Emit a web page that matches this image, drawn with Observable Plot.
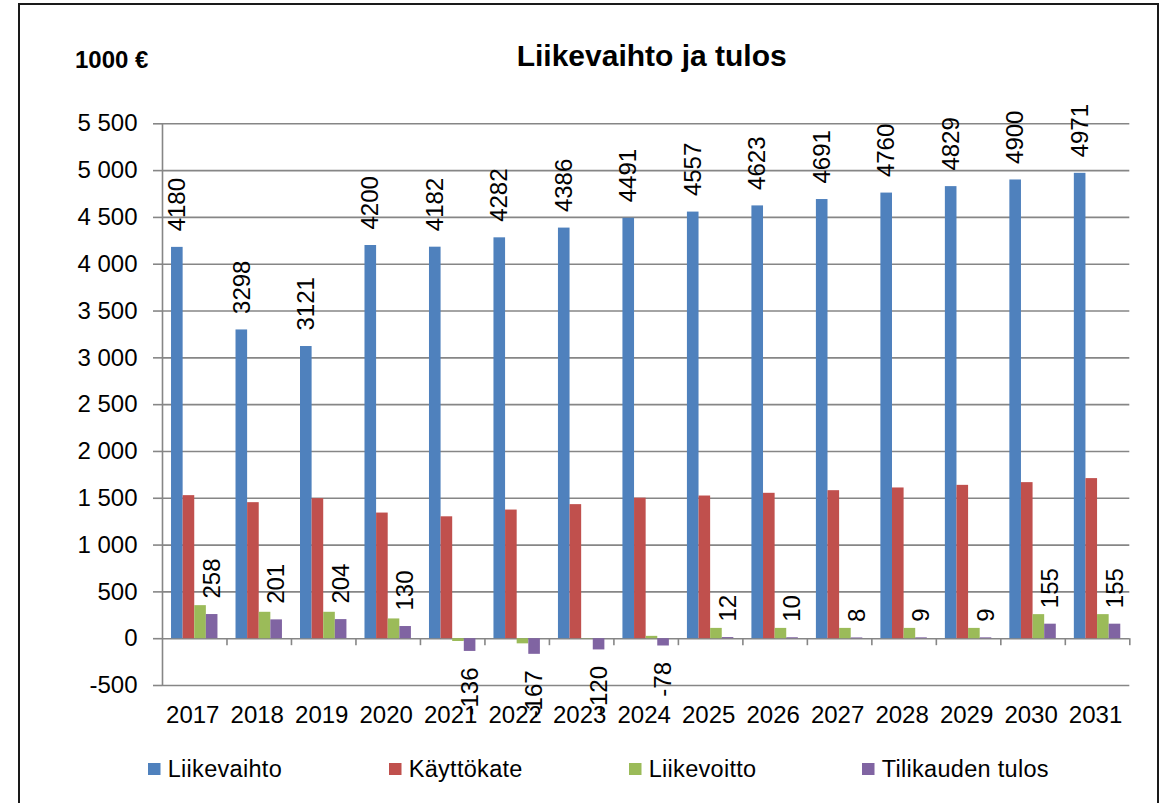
<!DOCTYPE html>
<html><head><meta charset="utf-8">
<script src="https://cdn.jsdelivr.net/npm/d3@7"></script>
<script src="https://cdn.jsdelivr.net/npm/@observablehq/plot@0.6"></script>
<style>
html,body{margin:0;padding:0;background:#fff;}
#wrap{position:relative;width:1170px;height:803px;overflow:hidden;font-family:"Liberation Sans",Arial,sans-serif;background:#fff;}
#border{position:absolute;left:18px;top:3px;width:1137px;height:900px;border:2px solid #1a1a1a;}
#chart{position:absolute;left:0;top:0;}
#overlay{position:absolute;left:0;top:0;}
</style></head>
<body><div id="wrap"><div id="border"></div><div id="chart"></div><svg id="overlay" width="1170" height="803"></svg></div>
<script>
const years = ["2017","2018","2019","2020","2021","2022","2023","2024","2025","2026","2027","2028","2029","2030","2031"];
const liikevaihto = [4180,3298,3121,4200,4182,4282,4386,4491,4557,4623,4691,4760,4829,4900,4971];
const kayttokate = [1528,1453,1496,1342,1302,1374,1432,1501,1524,1553,1581,1610,1638,1667,1710];
const liikevoitto = [353,282,282,211,-30,-55,-3,25,110,110,110,110,110,257,257];
const tilikaudenTulos = [258,201,204,130,-136,-167,-120,-78,12,10,8,9,9,155,155];
const seriesNames = ["Liikevaihto","Käyttökate","Liikevoitto","Tilikauden tulos"];
const seriesColors = ["#4F81BD","#C0504D","#9BBB59","#8064A2"];
const yTicks = [-500,0,500,1000,1500,2000,2500,3000,3500,4000,4500,5000,5500];
const titleText = "Liikevaihto ja tulos";
const unitText = "1000 €";

const W = 1170, H = 740;
const mL = 162, mR = 40.7, mT = 123.3, mB = 55;
const padIn = 0.28;
const step = (W - mL - mR) / years.length;
const bw = step * (1 - padIn);
const nS = seriesNames.length;
const sub = bw / nS;
const allSeries = [liikevaihto, kayttokate, liikevoitto, tilikaudenTulos];
const rows = s => years.map((year, j) => ({year, value: s[j]}));
const fmt = d3.formatLocale({decimal: ",", thousands: " ", grouping: [3], currency: ["", " €"], minus: "-"}).format(",d");
const grid = "#868686";
const offset = i => (i - (nS - 1) / 2) * sub;

const barMarks = allSeries.map((s, i) => Plot.barY(rows(s), {
  x: "year", y: "value", fill: seriesColors[i],
  insetLeft: i * sub, insetRight: (nS - 1 - i) * sub
}));

const labelOpts = (i) => ({x: "year", y: "value", text: d => String(d.value), rotate: -90,
  dx: offset(i), fontSize: 24, fill: "#000"});

const chart = Plot.plot({
  width: W, height: H,
  marginLeft: mL, marginRight: mR, marginTop: mT, marginBottom: mB,
  style: {fontFamily: "'Liberation Sans', Arial, sans-serif", fontSize: "24px", color: "#000", background: "transparent"},
  x: {domain: years, paddingInner: padIn, paddingOuter: padIn / 2, round: false, label: null},
  y: {domain: [-500, 5500], label: null},
  marks: [
    Plot.gridY(yTicks, {stroke: grid, strokeOpacity: 1, strokeWidth: 1.6}),
    Plot.ruleX([years[0]], {x: d => d, dx: -step / 2, stroke: grid, strokeWidth: 1.6}),
    Plot.ruleX(years, {x: d => d, dx: step / 2, y1: 0, y2: 0, insetBottom: -7, stroke: grid, strokeWidth: 1.6}),
    Plot.axisY({ticks: yTicks, tickFormat: fmt, tickSize: 9, tickPadding: 16, fontSize: 24, stroke: grid, strokeWidth: 1.6, fill: "#000", label: null}),
    Plot.axisX({tickSize: 0, tickPadding: 20, fontSize: 24, fill: "#000", dx: -2, label: null}),
    ...barMarks,
    Plot.text(rows(liikevaihto), {...labelOpts(0), textAnchor: "start", dy: -16}),
    Plot.text(rows(tilikaudenTulos).filter(d => d.value >= 0), {...labelOpts(3), textAnchor: "start", dy: -16}),
    Plot.text(rows(tilikaudenTulos).filter(d => d.value < 0), {...labelOpts(3), textAnchor: "end", dy: 16})
  ]
});
document.getElementById("chart").appendChild(chart);

const ov = d3.select("#overlay");
const ff = "'Liberation Sans', Arial, sans-serif";
ov.append("text").attr("x", 651.7).attr("y", 66).attr("text-anchor", "middle")
  .attr("font-family", ff).attr("font-weight", "bold").attr("font-size", 30)
  .attr("fill", "#000").text(titleText);
ov.append("text").attr("x", 75).attr("y", 68.3)
  .attr("font-family", ff).attr("font-weight", "bold").attr("font-size", 24)
  .attr("fill", "#000").text(unitText);
const legendX = [148, 389, 629, 862];
seriesNames.forEach((name, i) => {
  ov.append("rect").attr("x", legendX[i]).attr("y", 763).attr("width", 12.5).attr("height", 12).attr("fill", seriesColors[i]);
  ov.append("text").attr("x", legendX[i] + 19.7).attr("y", 776.5)
    .attr("font-family", ff).attr("font-size", 23.5).attr("letter-spacing", 0.3).attr("fill", "#000").text(name);
});
</script>
</body></html>
